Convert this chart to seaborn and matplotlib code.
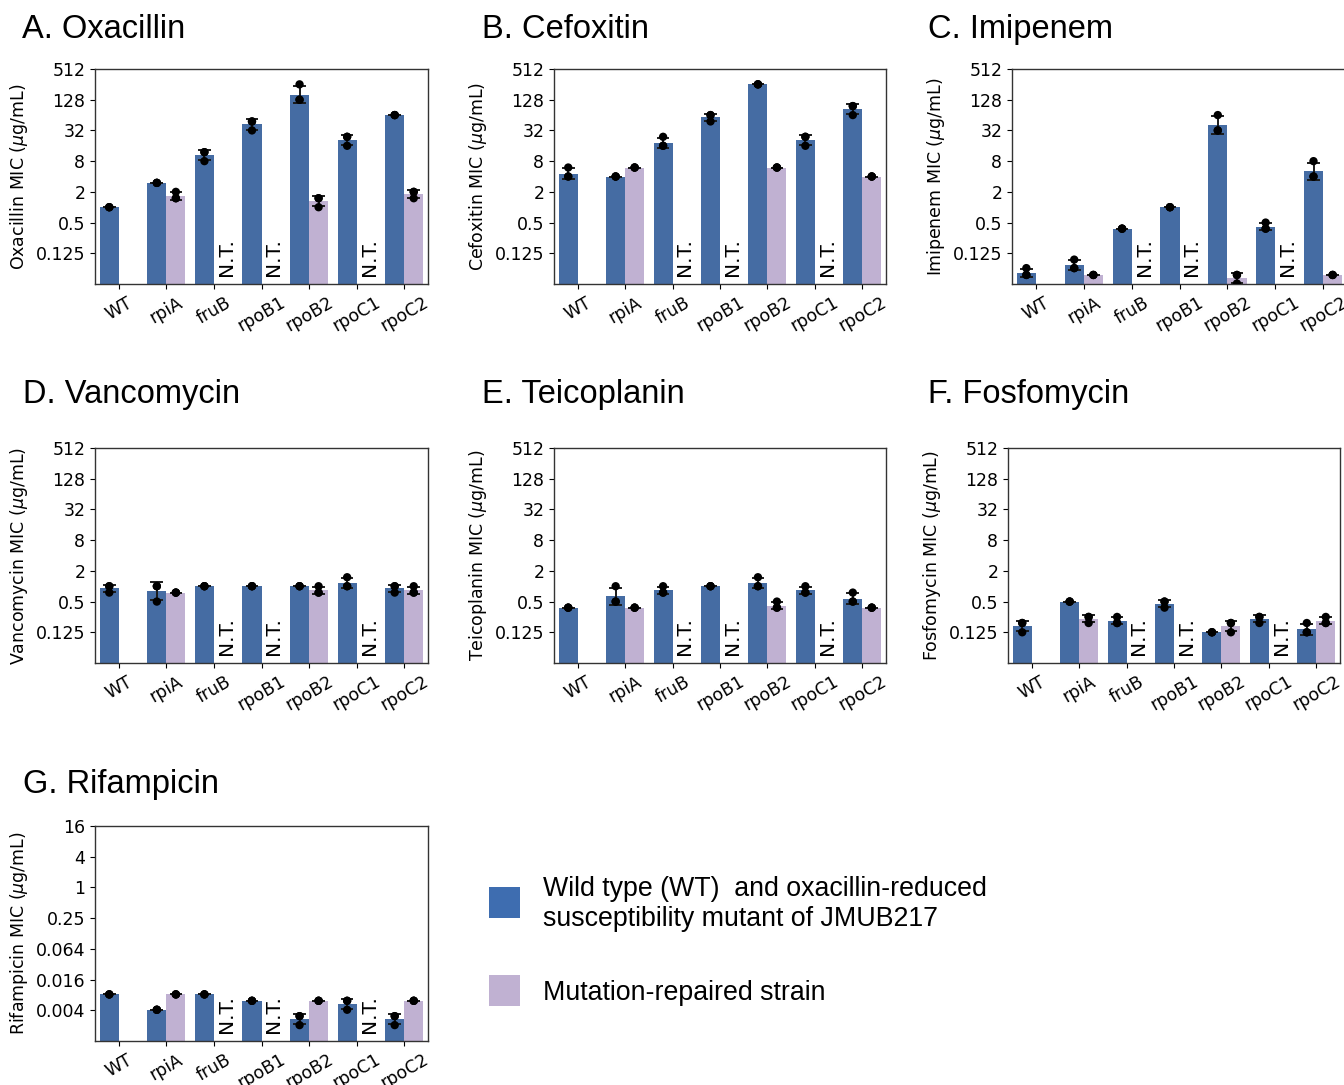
import numpy as np
import pandas as pd
import matplotlib
matplotlib.use("Agg")
import matplotlib.pyplot as plt
import matplotlib.ticker as mticker
from matplotlib.patches import Rectangle
import seaborn as sns

# ---------------- data ----------------
strains = ["WT", "rpiA", "fruB", "rpoB1", "rpoB2", "rpoC1", "rpoC2"]
groups = ["mutant", "repaired"]
legend_labels = ["Wild type (WT)  and oxacillin-reduced", "susceptibility mutant of JMUB217"]
legend_label2 = "Mutation-repaired strain"

# replicate MICs (ug/mL), one list per strain; None = not tested
oxa_mut = [[1, 1, 1], [3, 3, 3], [12, 12, 8], [48, 48, 32], [256, 128, 128], [24, 24, 16], [64, 64, 64]]
oxa_rep = [None, [2, 1.5, 1.5], None, None, [1.5, 1.5, 1], None, [2, 2, 1.5]]

cfx_mut = [[6, 4, 4], [4, 4, 4], [24, 16, 16], [64, 64, 48], [256, 256, 256], [24, 24, 16], [96, 96, 64]]
cfx_rep = [None, [6, 6, 6], None, None, [6, 6, 6], None, [4, 4, 4]]

imi_mut = [[0.064, 0.047, 0.047], [0.094, 0.064, 0.064], [0.38, 0.38, 0.38], [1, 1, 1],
           [64, 32, 32], [0.5, 0.38, 0.38], [8, 4, 4]]
imi_rep = [None, [0.047, 0.047, 0.047], None, None, [0.047, 0.047, 0.032], None, [0.047, 0.047, 0.047]]

van_mut = [[1, 1, 0.75], [1, 1, 0.5], [1, 1, 1], [1, 1, 1], [1, 1, 1], [1.5, 1, 1], [1, 1, 0.75]]
van_rep = [None, [0.75, 0.75, 0.75], None, None, [1, 0.75, 0.75], None, [1, 0.75, 0.75]]

tei_mut = [[0.38, 0.38, 0.38], [1, 0.5, 0.5], [1, 0.75, 0.75], [1, 1, 1], [1.5, 1, 1],
           [1, 0.75, 0.75], [0.75, 0.5, 0.5]]
tei_rep = [None, [0.38, 0.38, 0.38], None, None, [0.5, 0.38, 0.38], None, [0.38, 0.38, 0.38]]

fos_mut = [[0.19, 0.19, 0.125], [0.5, 0.5, 0.5], [0.25, 0.19, 0.19], [0.5, 0.5, 0.38],
           [0.125, 0.125, 0.125], [0.25, 0.25, 0.19], [0.19, 0.125, 0.125]]
fos_rep = [None, [0.25, 0.25, 0.19], None, None, [0.19, 0.19, 0.125], None, [0.25, 0.19, 0.19]]

rif_mut = [[0.008, 0.008, 0.008], [0.004, 0.004, 0.004], [0.008, 0.008, 0.008], [0.006, 0.006, 0.006],
           [0.003, 0.003, 0.002], [0.006, 0.006, 0.004], [0.003, 0.003, 0.002]]
rif_rep = [None, [0.008, 0.008, 0.008], None, None, [0.006, 0.006, 0.006], None, [0.006, 0.006, 0.006]]

std_ticks = [0.125, 0.5, 2, 8, 32, 128, 512]
std_ticklabels = ["0.125", "0.5", "2", "8", "32", "128", "512"]
rif_ticks = [2 ** -8, 2 ** -6, 2 ** -4, 2 ** -2, 1, 4, 16]
rif_ticklabels = ["0.004", "0.016", "0.064", "0.25", "1", "4", "16"]

# ---------------- style ----------------
bar_colors = {"mutant": "#456CA3", "repaired": "#C0B1D2"}
legend_colors = ["#3E6DB0", "#C0B1D2"]

W, H = 1344, 1085
fig = plt.figure(figsize=(W / 100, H / 100), dpi=100)
fig.patch.set_facecolor("white")


def frame(mut, rep):
    rows = []
    for s, m, r in zip(strains, mut, rep):
        for v in m:
            rows.append((s, "mutant", v))
        if r is not None:
            for v in r:
                rows.append((s, "repaired", v))
    return pd.DataFrame(rows, columns=["strain", "group", "mic"])


def add_ax(l, t, r, b):
    return fig.add_axes([l / W, 1 - b / H, (r - l) / W, (b - t) / H])


panels = [
    ("A. Oxacillin", "Oxacillin", oxa_mut, oxa_rep, (95, 69, 428, 284), (22, 38), "std"),
    ("B. Cefoxitin", "Cefoxitin", cfx_mut, cfx_rep, (554, 69, 886, 284), (482, 38), "std"),
    ("C. Imipenem", "Imipenem", imi_mut, imi_rep, (1012, 69, 1347, 284), (928, 38), "std"),
    ("D. Vancomycin", "Vancomycin", van_mut, van_rep, (95, 448, 428, 663), (23, 403), "std"),
    ("E. Teicoplanin", "Teicoplanin", tei_mut, tei_rep, (554, 448, 886, 663), (482, 403), "std"),
    ("F. Fosfomycin", "Fosfomycin", fos_mut, fos_rep, (1008, 448, 1340, 663), (928, 403), "std"),
    ("G. Rifampicin", "Rifampicin", rif_mut, rif_rep, (95, 826, 428, 1041), (23, 793), "rif"),
]

for title, drug, mut, rep, rect, tpos, kind in panels:
    ax = add_ax(*rect)
    ax.set_yscale("log", base=2)
    df = frame(mut, rep)
    sns.barplot(data=df, x="strain", y="mic", hue="group", order=strains, hue_order=groups,
                palette=bar_colors, saturation=1, errorbar="sd", capsize=0.45,
                err_kws={"color": "#1a1a1a", "linewidth": 1.4}, legend=False, ax=ax)
    sns.stripplot(data=df, x="strain", y="mic", hue="group", order=strains, hue_order=groups,
                  palette={"mutant": "black", "repaired": "black"}, dodge=True, jitter=False,
                  size=6, legend=False, ax=ax)
    if kind == "std":
        ax.set_ylim(2 ** -5, 2 ** 9)
        ax.set_yticks(std_ticks)
        ax.set_yticklabels(std_ticklabels)
    else:
        ax.set_ylim(2 ** -10, 2 ** 4)
        ax.set_yticks(rif_ticks)
        ax.set_yticklabels(rif_ticklabels)
    ax.yaxis.set_minor_locator(mticker.NullLocator())
    ax.set_xlim(-0.5, 6.5)
    ax.set_xlabel("")
    ax.set_ylabel(drug + r" MIC ($\mu$g/mL)", fontsize=12.5)
    ax.tick_params(axis="both", labelsize=12.5)
    plt.setp(ax.get_xticklabels(), rotation=30, ha="center")
    for sp in ax.spines.values():
        sp.set_color("#333333")
        sp.set_linewidth(1.0)
    # N.T. labels for untested repaired strains
    for i, r in enumerate(rep):
        if r is None and strains[i] != "WT":
            ax.text(i + 0.26, 0.035, "N.T.", rotation=90, ha="center", va="bottom",
                    fontsize=14.5, transform=ax.get_xaxis_transform())
    fig.text(tpos[0] / W, 1 - tpos[1] / H, title, fontsize=23.5, family="Liberation Sans",
             va="baseline", ha="left")

# ---------------- legend ----------------
sq = 31
fig.patches.append(Rectangle((489 / W, 1 - 918 / H), sq / W, sq / H, transform=fig.transFigure,
                             facecolor=legend_colors[0], edgecolor="none"))
fig.patches.append(Rectangle((489 / W, 1 - 1006 / H), sq / W, sq / H, transform=fig.transFigure,
                             facecolor=legend_colors[1], edgecolor="none"))
fig.text(543 / W, 1 - 895.5 / H, legend_labels[0], fontsize=19.3, family="Liberation Sans", va="baseline")
fig.text(543 / W, 1 - 926.5 / H, legend_labels[1], fontsize=19.3, family="Liberation Sans", va="baseline")
fig.text(543 / W, 1 - 1000 / H, legend_label2, fontsize=19.3, family="Liberation Sans", va="baseline")

fig.savefig("out.png", dpi=100, facecolor="white")
